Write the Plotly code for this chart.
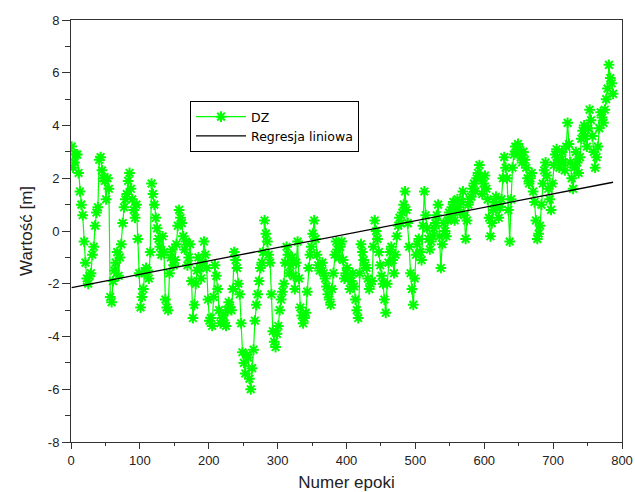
import numpy as np
import plotly.graph_objects as go

# Epoch numbers (every 2nd epoch) and DZ values in metres
epoch_start, epoch_step = 1, 2
dz_values = [
    3.2, 2.4, 2.6, 2.9, 2.9, 2.2, 1.5, 1.0, 0.6, -0.4, -1.2, -1.8, -2.0, -1.7, -1.6, -0.9, -0.6, 0.2, 0.7, 0.9,
    2.7, 2.8, 2.3, 2.0, 1.9, 1.2, 2.0, 1.6, -2.5, -2.7, -1.9, -1.5, -1.2, -0.8, -1.7, -1.0, -0.5, 0.3, 0.9, 1.2,
    1.4, 1.9, 2.2, 1.6, 1.2, 0.8, 0.5, 1.0, -0.3, -1.6, -2.9, -2.5, -2.2, -1.6, -1.4, -1.5, -1.8, -0.8, 1.8, 1.4,
    1.0, 0.5, 0.1, -0.3, -0.6, -0.9, -0.2, -0.8, -2.6, -2.9, -3.0, -1.6, -1.0, -0.7, -1.3, -1.1, -0.5, 0.2, 0.8, 0.5,
    0.3, -0.2, -0.7, -0.4, -1.3, -1.0, -0.5, -1.9, -3.3, -2.8, -2.0, -1.5, -1.0, -1.4, -1.8, -1.2, -0.4, -0.9, -1.4, -2.6,
    -3.4, -3.3, -3.6, -2.5, -1.3, -1.7, -2.2, -3.0, -3.5, -3.3, -3.2, -3.5, -3.6, -3.0, -2.7, -2.9, -3.0, -2.2, -0.8, -1.1,
    -1.4, -2.0, -2.4, -3.5, -4.6, -5.0, -5.4, -4.7, -4.8, -5.6, -6.0, -5.2, -4.5, -3.4, -2.8, -2.4, -1.9, -1.4, -1.2, -0.8,
    0.4, -0.1, -0.4, -0.9, -1.2, -2.4, -3.8, -4.2, -4.4, -3.9, -3.6, -3.0, -2.6, -2.3, -2.0, -1.2, -0.6, -0.9, -1.6, -1.3,
    -1.0, -1.7, -2.2, -1.2, -0.4, -1.8, -2.9, -3.2, -3.5, -3.3, -3.1, -2.3, -1.4, -0.9, -0.6, -0.1, 0.4, -0.3, -0.9, -1.3,
    -1.5, -1.4, -1.2, -1.6, -1.8, -2.1, -2.4, -2.6, -2.8, -2.2, -1.6, -0.9, -0.4, -0.7, -1.0, -0.6, -0.4, -1.1, -1.8, -1.6,
    -1.4, -1.8, -2.2, -1.9, -1.6, -2.1, -2.6, -3.0, -3.3, -1.6, -0.5, -0.8, -1.1, -1.3, -1.4, -1.8, -2.2, -2.0, -1.9, -0.6,
    0.4, 0.0, -0.3, -0.8, -1.3, -1.7, -2.0, -2.6, -3.1, -2.0, -1.2, -0.8, -0.6, -1.1, -1.6, -0.9, -0.2, 0.2, 0.5, 0.3,
    0.7, 1.0, 1.5, 0.8, 0.3, -0.6, -1.6, -2.2, -2.8, -1.8, -0.9, -0.5, -0.3, -0.8, -1.1, 0.2, 1.5, 0.6, 0.1, -0.3,
    -0.7, -0.4, -0.2, 0.1, 0.3, 0.6, 1.0, -0.2, -1.4, -0.5, 0.3, 0.0, -0.2, 0.4, 0.7, 0.5, 0.9, 1.1, 0.4, 0.8,
    1.2, 0.9, 0.7, 1.1, 1.5, 0.6, -0.3, 0.4, 1.0, 1.2, 1.3, 1.6, 1.8, 1.5, 2.0, 2.2, 2.5, 2.0, 1.4, 1.8,
    2.1, 1.6, 1.2, 0.5, -0.2, 0.3, 0.8, 1.1, 1.3, 0.9, 0.5, 0.9, 1.2, 2.0, 2.8, 2.4, 2.0, 0.8, -0.4, 1.2,
    2.4, 2.9, 3.2, 3.0, 3.3, 3.1, 2.8, 2.6, 3.0, 2.7, 2.4, 2.0, 1.8, 2.0, 2.2, 1.5, 1.1, 0.4, -0.3, -0.1,
    0.2, 1.0, 1.8, 2.3, 2.6, 2.1, 1.6, 1.2, 0.8, 1.8, 2.5, 2.9, 3.1, 2.7, 2.4, 2.7, 3.0, 2.6, 2.3, 3.2,
    4.1, 3.3, 2.6, 2.0, 1.6, 2.4, 3.0, 2.6, 2.2, 2.8, 3.5, 3.8, 4.0, 3.6, 3.2, 3.9, 4.6, 4.2, 3.6, 3.0,
    2.4, 2.8, 3.2, 3.9, 4.5, 4.3, 4.1, 4.6, 5.0, 5.4, 6.3, 5.8, 5.6, 5.2,
]
epochs = [epoch_start + epoch_step * i for i in range(len(dz_values))]

# Linear regression coefficients: DZ = intercept + slope * epoch
reg_intercept = -2.15
reg_slope = 0.00508
reg_x = np.array([epochs[0], epochs[-1]])
reg_y = reg_intercept + reg_slope * reg_x

x_ticks = list(range(0, 801, 100))
y_ticks = list(range(-8, 9, 2))

fig = go.Figure()
fig.add_trace(go.Scatter(
    x=epochs, y=dz_values, name="DZ", mode="lines+markers",
    line=dict(color="#00ff00", width=1.2),
    marker=dict(symbol="asterisk-open", size=9,
                color="#00ff00", line=dict(color="#00ff00", width=2)),
))
fig.add_trace(go.Scatter(
    x=reg_x, y=reg_y, name="Regresja liniowa", mode="lines",
    line=dict(color="black", width=1.3),
))

axis_font = dict(family="Liberation Sans, Arial, sans-serif", size=13, color="#222")
fig.update_layout(
    width=635, height=492,
    margin=dict(l=71, r=13, t=20, b=50),
    paper_bgcolor="white", plot_bgcolor="white",
    font=axis_font,
    showlegend=True,
    legend=dict(
        x=0.216, y=0.808, xanchor="left", yanchor="top",
        bgcolor="white", bordercolor="black", borderwidth=1,
        font=dict(family="DejaVu Sans, sans-serif", size=12.5, color="black"),
        tracegroupgap=0, itemwidth=50,
    ),
)
fig.update_xaxes(
    range=[0, 800], tickvals=x_ticks, ticktext=[str(v) for v in x_ticks],
    showgrid=False, zeroline=False, automargin=False,
    showline=True, linecolor="#333", linewidth=1, mirror=True,
    ticks="outside", ticklen=6, tickcolor="#333",
    minor=dict(ticks="outside", dtick=50, ticklen=3, tickcolor="#333", showgrid=False),
    title=dict(text="Numer epoki", font=dict(size=17, color="#222"), standoff=16),
)
fig.update_yaxes(
    range=[-8, 8], tickvals=y_ticks, ticktext=[str(v) for v in y_ticks],
    showgrid=False, zeroline=False, automargin=False,
    showline=True, linecolor="#333", linewidth=1, mirror=True,
    ticks="outside", ticklen=8, tickcolor="#333",
    minor=dict(ticks="outside", dtick=1, ticklen=5, tickcolor="#333", showgrid=False),
    title=dict(text="Wartość [m]", font=dict(size=17, color="#222"), standoff=10),
)

fig.write_html("out.html")
